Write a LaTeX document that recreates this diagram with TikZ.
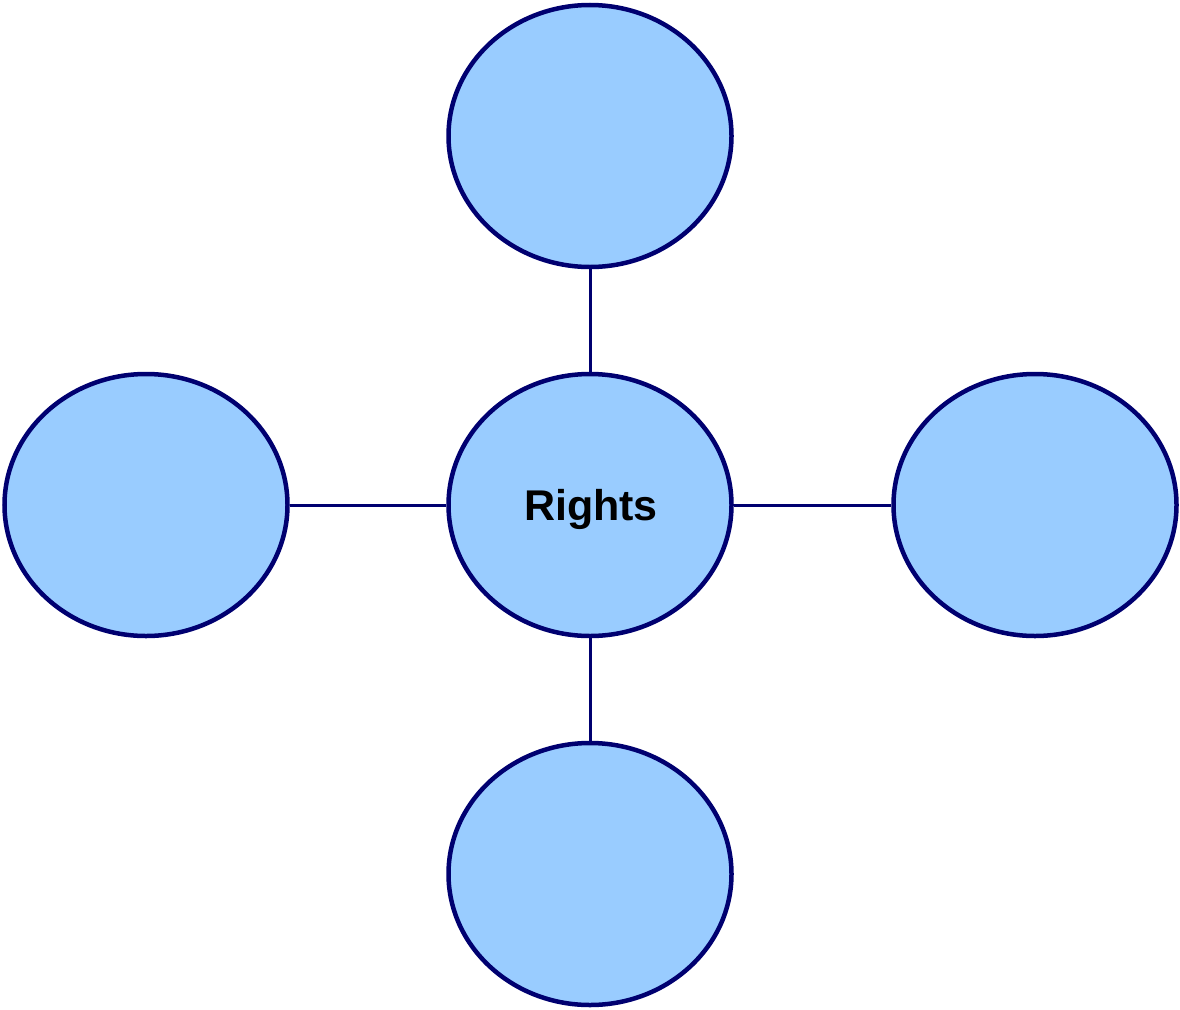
\documentclass[tikz,border=0pt]{standalone}
\usepackage{fontspec}
\setmainfont{Liberation Sans}
\usetikzlibrary{shapes.geometric}
\definecolor{navyline}{HTML}{000070}
\definecolor{bubblefill}{HTML}{99CCFF}
\begin{document}
\begin{tikzpicture}[x=1pt,y=-1pt,
  bubble/.style={ellipse, draw=navyline, fill=bubblefill, line width=4.5pt,
    minimum width=283pt, minimum height=262pt, inner sep=0pt},
  link/.style={draw=navyline, line width=3pt}]
\useasboundingbox (0,0) rectangle (1180,1009);
\node[bubble] (c) at (590,505) {};
\node[bubble] (t) at (590,136) {};
\node[bubble] (b) at (590,874) {};
\node[bubble] (l) at (146,505) {};
\node[bubble] (r) at (1035,505) {};
\node (lbl) at (591,509) {\fontsize{43}{48}\selectfont\bfseries Rights};
\draw[link] (c) -- (t);
\draw[link] (c) -- (b);
\draw[link] (c) -- (l);
\draw[link] (c) -- (r);
\end{tikzpicture}
\end{document}
